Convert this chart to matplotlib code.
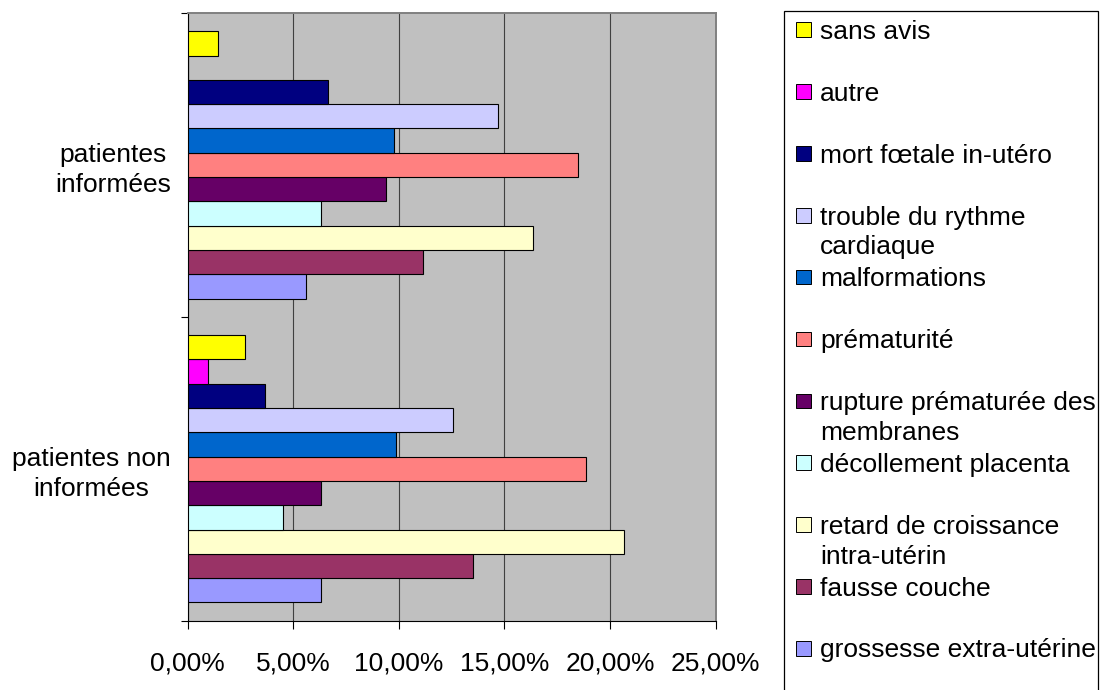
import numpy as np
import matplotlib.pyplot as plt
from matplotlib.patches import Rectangle

# categories (bottom to top, like excel)
groups = ["patientes non\ninformées", "patientes\ninformées"]

# series, from bottom bar to top bar inside each group
series = [
    "grossesse extra-utérine",
    "fausse couche",
    "retard de croissance\nintra-utérin",
    "décollement placenta",
    "rupture prématurée des\nmembranes",
    "prématurité",
    "malformations",
    "trouble du rythme\ncardiaque",
    "mort fœtale in-utéro",
    "autre",
    "sans avis",
]
colors = ["#9999FF", "#993366", "#FFFFCC", "#CCFFFF", "#660066", "#FF8080",
          "#0066CC", "#CCCCFF", "#000080", "#FF00FF", "#FFFF00"]

# percentages
non_informees = [6.33, 13.51, 20.69, 4.51, 6.33, 18.87, 9.88, 12.57, 3.65, 0.95, 2.70]
informees = [5.63, 11.13, 16.35, 6.33, 9.41, 18.48, 9.80, 14.68, 6.64, 0.0, 1.44]

xticks = [0, 5, 10, 15, 20, 25]
xticklabels = ["0,00%", "5,00%", "10,00%", "15,00%", "20,00%", "25,00%"]

plt.rcParams["font.family"] = ["Liberation Sans", "DejaVu Sans"]
FS = 19

W, H = 1119, 690
fig = plt.figure(figsize=(W / 100, H / 100), dpi=100)
ax = fig.add_axes([187.5 / W, 1 - 620.7 / H, (715.5 - 187.5) / W, (620.7 - 13) / H])
ax.set_facecolor("#C0C0C0")

values = np.array([non_informees, informees])  # shape (groups, series)
n = len(series)
h = 1 / (n + 1.5)  # excel gap width 150%
ypos = np.arange(len(groups))
for k in range(n):
    ax.barh(ypos + (k - (n - 1) / 2) * h, values[:, k], height=h,
            color=colors[k], edgecolor="black", linewidth=0.8, zorder=3)

ax.set_xlim(0, 25)
ax.set_ylim(-0.5, len(groups) - 0.5)

# x axis
ax.set_xticks(xticks)
ax.set_xticklabels(xticklabels, fontsize=FS)
ax.tick_params(axis="x", direction="out", length=6, width=0.8, pad=16.5)
ax.grid(axis="x", color="#404040", linewidth=0.8, zorder=1)

# y axis: ticks at group borders, labels at centers
ax.set_yticks(np.arange(-0.5, len(groups), 1.0))
ax.set_yticklabels([])
ax.tick_params(axis="y", which="major", direction="out", length=5, width=0.8)
ax.set_yticks(ypos, minor=True)
ax.set_yticklabels(groups, minor=True, fontsize=FS, ha="right",
                   multialignment="center", linespacing=1.3)
ax.tick_params(axis="y", which="minor", length=0, pad=12)

ax.spines["left"].set_color("black")
ax.spines["bottom"].set_color("black")
for s in ["top", "right"]:
    ax.spines[s].set_color("#808080")
    ax.spines[s].set_linewidth(1.4)

# legend drawn by hand (excel style box)
fig.add_artist(Rectangle((784 / W, -0.02), (1098 - 784) / W, 1.02 - 11 / H,
                         transform=fig.transFigure, fill=False,
                         edgecolor="black", linewidth=0.9))
for i, k in enumerate(range(n - 1, -1, -1)):
    yc = 30 + i * 61.85
    fig.add_artist(Rectangle((796 / W, 1 - (yc + 7) / H), 14.5 / W, 14.5 / H,
                             transform=fig.transFigure, facecolor=colors[k],
                             edgecolor="black", linewidth=0.7))
    fig.text(820 / W, 1 - (yc - 10) / H, series[k], fontsize=FS,
             ha="left", va="top", linespacing=1.3)

plt.savefig("out.png", dpi=100)
